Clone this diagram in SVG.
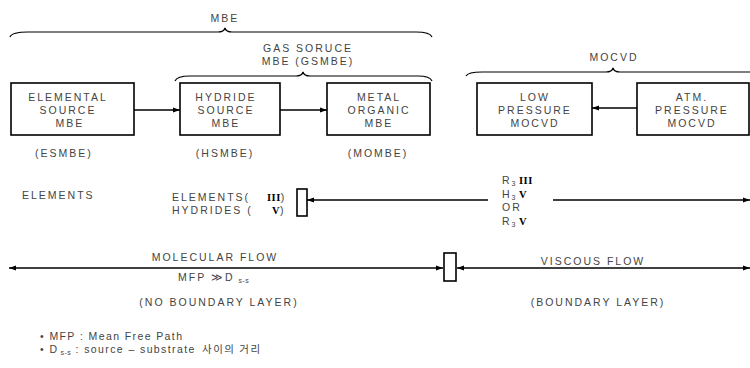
<svg xmlns="http://www.w3.org/2000/svg" width="750" height="368" viewBox="0 0 750 368">
<defs>
<marker id="ah" viewBox="0 0 10 10" refX="10" refY="5" markerWidth="9" markerHeight="7" markerUnits="userSpaceOnUse" orient="auto-start-reverse"><path d="M0,1.5 L10,5 L0,8.5 Z" fill="#000"/></marker>
</defs>
<style>
.t{font-family:"Liberation Sans",Arial,sans-serif;font-size:10.5px;fill:#444;letter-spacing:2px}
.c{text-anchor:middle}
.b{font-family:"Liberation Serif","Times New Roman",serif;font-weight:bold;fill:#000;letter-spacing:0.5px}
.box{fill:#fff;stroke:#000;stroke-width:1.6}
.ln{fill:none;stroke:#000;stroke-width:1.3}
.br{fill:none;stroke:#000;stroke-width:1.2}
.k{font-family:"Noto Sans CJK KR",sans-serif;letter-spacing:1.5px}
.s{font-size:7px;letter-spacing:0.5px}
.n{letter-spacing:1.4px}
</style>
<g id="braces">
<path class="br" d="M10,37 Q12,32 28,32 L218,32 Q224,32 225,28 Q226,32 232,32 L416,32 Q430,32 432,37"/>
<text class="t c" x="225" y="22">MBE</text>
<path class="br" d="M175,81 Q177,76 190,76 L296,76 Q302,76 303,72 Q304,76 310,76 L418,76 Q430,76 432,81"/>
<text class="t c" x="308" y="52">GAS SORUCE</text>
<text class="t c" x="308" y="65">MBE (GSMBE)</text>
<path class="br" d="M466,76 Q468,72 482,72 L606,72 Q612,72 613,68 Q614,72 620,72 L750,72"/>
<text class="t c" x="614" y="61">MOCVD</text>
</g>
<g id="esmbe">
<rect class="box" x="11" y="83" width="123" height="52"/>
<text class="t c" x="68" y="101">ELEMENTAL</text>
<text class="t c" x="68" y="114">SOURCE</text>
<text class="t c" x="70" y="127">MBE</text>
<text class="t c" x="64" y="157">(ESMBE)</text>
</g>
<g id="hsmbe">
<rect class="box" x="180" y="83" width="100" height="52"/>
<text class="t c" x="226" y="101">HYDRIDE</text>
<text class="t c" x="226" y="114">SOURCE</text>
<text class="t c" x="226" y="127">MBE</text>
<text class="t c" x="225" y="157">(HSMBE)</text>
</g>
<g id="mombe">
<rect class="box" x="327" y="83" width="103" height="52"/>
<text class="t c" x="379" y="101">METAL</text>
<text class="t c" x="379" y="114">ORGANIC</text>
<text class="t c" x="379" y="127">MBE</text>
<text class="t c" x="378" y="157">(MOMBE)</text>
</g>
<g id="lpmocvd">
<rect class="box" x="477" y="83" width="115" height="52"/>
<text class="t c" x="535" y="101">LOW</text>
<text class="t c" x="535" y="114">PRESSURE</text>
<text class="t c" x="535" y="127">MOCVD</text>
</g>
<g id="atmmocvd">
<rect class="box" x="637" y="83" width="112" height="52"/>
<text class="t c" x="692" y="101">ATM.</text>
<text class="t c" x="692" y="114">PRESSURE</text>
<text class="t c" x="692" y="127">MOCVD</text>
</g>
<g id="sources">
<text class="t" x="22" y="199">ELEMENTS</text>
<text class="t" x="172" y="201">ELEMENTS(<tspan class="b" x="267">III</tspan>)</text>
<text class="t" x="172" y="214">HYDRIDES (<tspan class="b" x="272">V</tspan>)</text>
<rect class="box" x="297" y="189" width="10" height="27"/>
<text class="t" x="502" y="184">R<tspan class="s" dy="2">3</tspan><tspan class="b" dy="-2" dx="3">III</tspan></text>
<text class="t" x="502" y="197.5">H<tspan class="s" dy="2">3</tspan><tspan class="b" dy="-2" dx="3">V</tspan></text>
<text class="t" x="502" y="211">OR</text>
<text class="t" x="502" y="224.5">R<tspan class="s" dy="2">3</tspan><tspan class="b" dy="-2" dx="3">V</tspan></text>
</g>
<g id="flow">
<rect class="box" x="444" y="253" width="12" height="28"/>
<text class="t c" x="215" y="261">MOLECULAR FLOW</text>
<text class="t" x="178" y="281">MFP ≫D<tspan class="s" dy="2" dx="4">s-s</tspan></text>
<text class="t c" x="219" y="306">(NO BOUNDARY LAYER)</text>
<text class="t c" x="593" y="265">VISCOUS FLOW</text>
<text class="t c" x="598" y="306">(BOUNDARY LAYER)</text>
</g>
<g id="connectors">
<line class="ln" x1="134" y1="110" x2="180" y2="110" marker-end="url(#ah)"/>
<line class="ln" x1="280" y1="110" x2="327" y2="110" marker-end="url(#ah)"/>
<line class="ln" x1="637" y1="108" x2="592" y2="108" marker-end="url(#ah)"/>
<line class="ln" x1="488" y1="200" x2="307" y2="200" marker-end="url(#ah)"/>
<line class="ln" x1="553" y1="200" x2="750" y2="200" marker-end="url(#ah)"/>
<line class="ln" x1="9" y1="268" x2="443" y2="268" marker-start="url(#ah)" marker-end="url(#ah)"/>
<line class="ln" x1="457" y1="268" x2="750" y2="268" marker-start="url(#ah)" marker-end="url(#ah)"/>
</g>
<g id="notes">
<text class="t n" x="40" y="340">• MFP : Mean Free Path</text>
<text class="t n" x="40" y="353">• D<tspan class="s" dy="2" dx="2">s-s</tspan><tspan dy="-2"> : source  – substrate</tspan><tspan class="k" x="202">사이의 거리</tspan></text>
</g>
</svg>
